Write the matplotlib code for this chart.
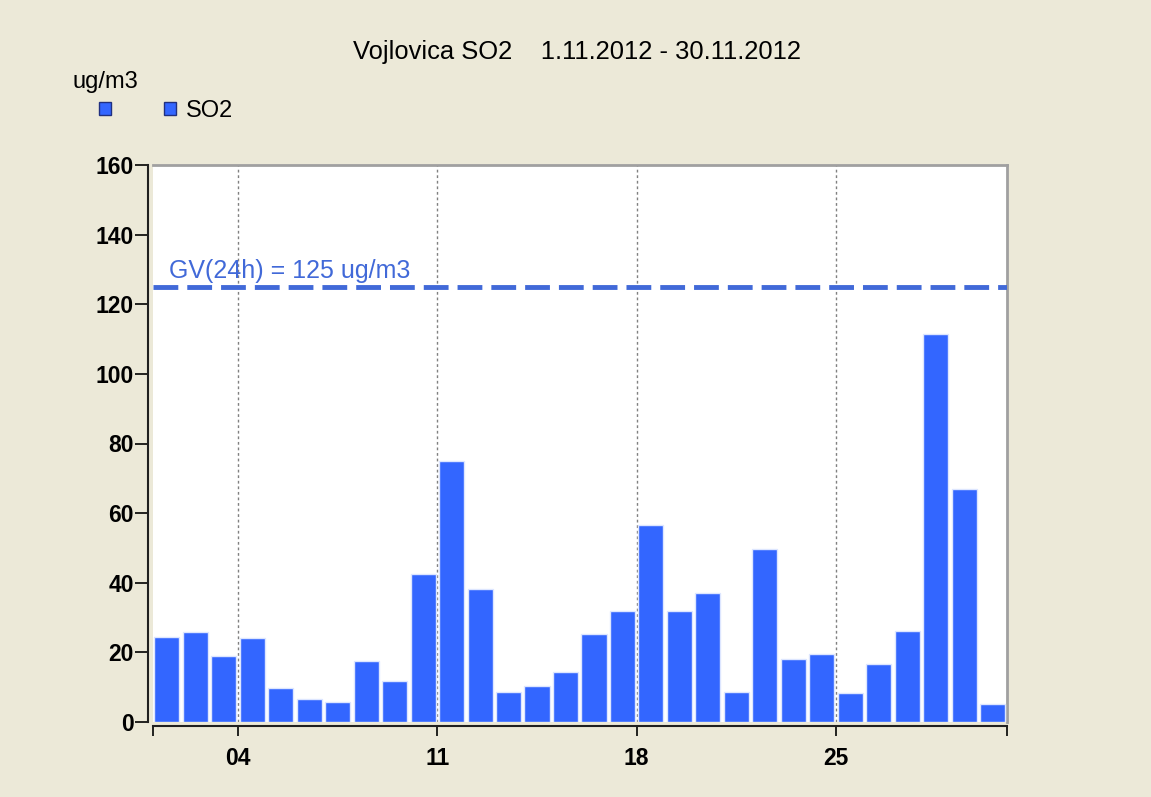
"""
plot.py — Vojlovica SO2 daily averages, November 2012
"""

import matplotlib
matplotlib.use('Agg')
import matplotlib.pyplot as plt
from matplotlib.patches import Patch
import numpy as np

# ── data ──
days = np.arange(1, 31)
so2 = [24.5, 25.8, 19.1, 24.0, 9.8, 6.5, 5.7, 17.6, 11.9, 42.5,
       75.0, 38.3, 8.6, 10.2, 14.3, 25.4, 31.8, 56.7, 31.8, 37.1,
       8.6, 49.8, 18.0, 19.6, 8.2, 16.7, 26.0, 111.4, 67.0, 5.3]
limit_24h = 125
tick_days = [4, 11, 18, 25]
tick_labels = ['04', '11', '18', '25']
y_ticks = [0, 20, 40, 60, 80, 100, 120, 140, 160]

BG = '#ECE9D8'
BAR = '#3366FF'
LIMIT = '#4169D8'

plt.rcParams['font.family'] = ['Liberation Sans', 'DejaVu Sans']

fig = plt.figure(figsize=(11.51, 7.97), dpi=100, facecolor=BG)
ax = fig.add_axes([152.5 / 1151, 1 - 722 / 797, (1007 - 152.5) / 1151, (722 - 165) / 797])
ax.set_facecolor('white')

# bars, one per day (day d spans [d-1, d])
ax.bar(days - 0.5, so2, width=0.88, color=BAR, edgecolor='#DDE6FF', linewidth=1, zorder=3)

# 24h limit value
ax.axhline(limit_24h, color=LIMIT, linewidth=3.5, dashes=(5.1, 1.85), zorder=4)
ax.text(0.58, 127.6, f'GV(24h) = {limit_24h} ug/m3', color=LIMIT, fontsize=18,
        va='baseline', ha='left', zorder=5)

ax.set_xlim(0, 30)
ax.set_ylim(0, 160)

# x axis: labelled ticks at week starts + plain ticks at both ends
ax.set_xticks([d - 1 for d in tick_days], labels=tick_labels)
ax.set_xticks([0, 30], minor=True)
ax.set_yticks(y_ticks)
ax.tick_params(axis='x', which='both', direction='out', length=7, width=1.2, pad=8,
               labelsize=16.5, colors='black')
ax.tick_params(axis='y', direction='out', length=9.5, width=1.2, pad=1, labelsize=16.5)

ax.grid(axis='x', which='major', color='#808080', linestyle=(0, (2, 2)), linewidth=1, zorder=1)

# frame
for side in ['left', 'bottom']:
    ax.spines[side].set_position(('outward', 3))
    ax.spines[side].set_color('#202020')
    ax.spines[side].set_linewidth(1.5)
for side in ['top', 'right']:
    ax.spines[side].set_color('#A0A0A0')
    ax.spines[side].set_linewidth(2)

# title, unit and legend
fig.text(577 / 1151, 1 - 52 / 797, 'Vojlovica SO2    1.11.2012 - 30.11.2012',
         fontsize=18.4, ha='center', va='center')
fig.text(72.7 / 1151, 1 - 88 / 797, 'ug/m3', fontsize=17, ha='left', va='baseline')

handles = [Patch(facecolor=BAR, edgecolor='#203080', linewidth=1),
           Patch(facecolor=BAR, edgecolor='#203080', linewidth=1)]
fig.legend(handles, ['', 'SO2'], ncol=2, frameon=False, fontsize=17,
           handlelength=0.5, handleheight=0.5, handletextpad=0.42, columnspacing=1.82,
           borderpad=0, borderaxespad=0, loc='center left',
           bbox_to_anchor=(99.3 / 1151, 1 - 111 / 797))

# tick labels are bold in the original; ticks only exist after a draw
fig.canvas.draw()
for lab in ax.get_xticklabels() + ax.get_yticklabels():
    lab.set_fontweight('bold')

plt.savefig('out.png', dpi=100, facecolor=BG)
plt.close()
